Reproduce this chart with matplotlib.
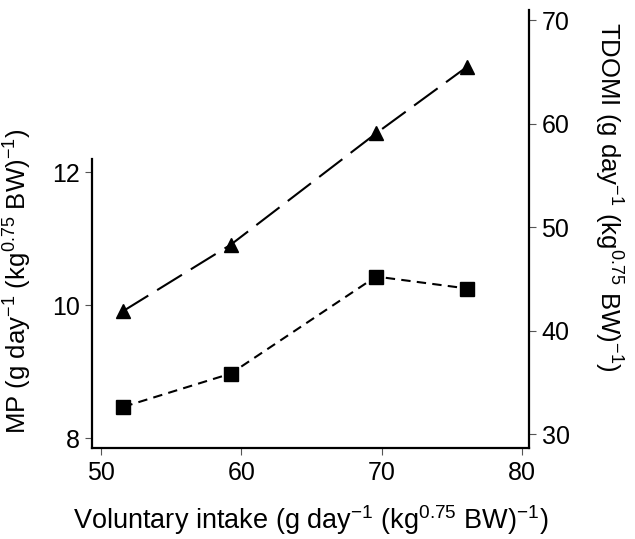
import matplotlib
matplotlib.use('Agg')
import matplotlib.pyplot as plt

plt.rcParams['font.family'] = ['Liberation Sans', 'DejaVu Sans']
plt.rcParams['mathtext.fontset'] = 'custom'
plt.rcParams['mathtext.rm'] = 'Liberation Sans'
plt.rcParams['mathtext.it'] = 'Liberation Sans:italic'
plt.rcParams['mathtext.bf'] = 'Liberation Sans:bold'

# data
intake = [51.6, 59.25, 69.6, 76.1]
mp = [8.47, 8.97, 10.43, 10.25]          # squares, left axis
tdomi = [41.9, 48.3, 59.05, 65.5]        # triangles, right axis

x_ticks = [50, 60, 70, 80]
mp_ticks = [8, 10, 12]
tdomi_ticks = [30, 40, 50, 60, 70]

unit = r'(g day$^{\mathregular{-1}}$ (kg$^{\mathregular{0.75}}$ BW)$^{\mathregular{-1}}$)'

fig = plt.figure(figsize=(6.35, 5.39), dpi=100)
ax = fig.add_axes([0.1449, 0.1688, 0.6882, 0.8126])
ax2 = ax.twinx()

# MP line (short dashes, squares)
ax.plot(intake, mp, color='black', lw=1.5, dashes=(4.5, 3), marker='s',
        markersize=9.5, markerfacecolor='black', markeredgecolor='black')
# TDOMI line (long dashes, triangles)
ax2.plot(intake, tdomi, color='black', lw=1.5, dashes=(14, 5), marker='^',
         markersize=10.5, markerfacecolor='black', markeredgecolor='black')

ax.set_xlim(49.36, 80.5)
ax.set_ylim(7.85, 14.44)
ax2.set_ylim(28.65, 70.97)

ax.set_xticks(x_ticks)
ax.set_yticks(mp_ticks)
ax2.set_yticks(tdomi_ticks)

for a in (ax, ax2):
    for s in a.spines.values():
        s.set_linewidth(1.6)
    a.spines['top'].set_visible(False)
    a.tick_params(labelsize=18, length=5, width=0.8, color='#555555', pad=4)
ax.spines['right'].set_visible(False)
ax.spines['left'].set_bounds(7.85, 12.2)
ax2.spines['left'].set_visible(False)
ax2.spines['bottom'].set_visible(False)

ax.set_xlabel('Voluntary intake ' + unit, fontsize=19.5)
ax.xaxis.set_label_coords(0.50, -0.125)
ax.set_ylabel('MP ' + unit, fontsize=18.5)
ax.yaxis.set_label_coords(-0.133, 0.38)
ax2.set_ylabel('TDOMI ' + unit, fontsize=18.5, rotation=270, va='center')
ax2.yaxis.set_label_coords(1.18, 0.574)

fig.savefig('out.png', dpi=100)
